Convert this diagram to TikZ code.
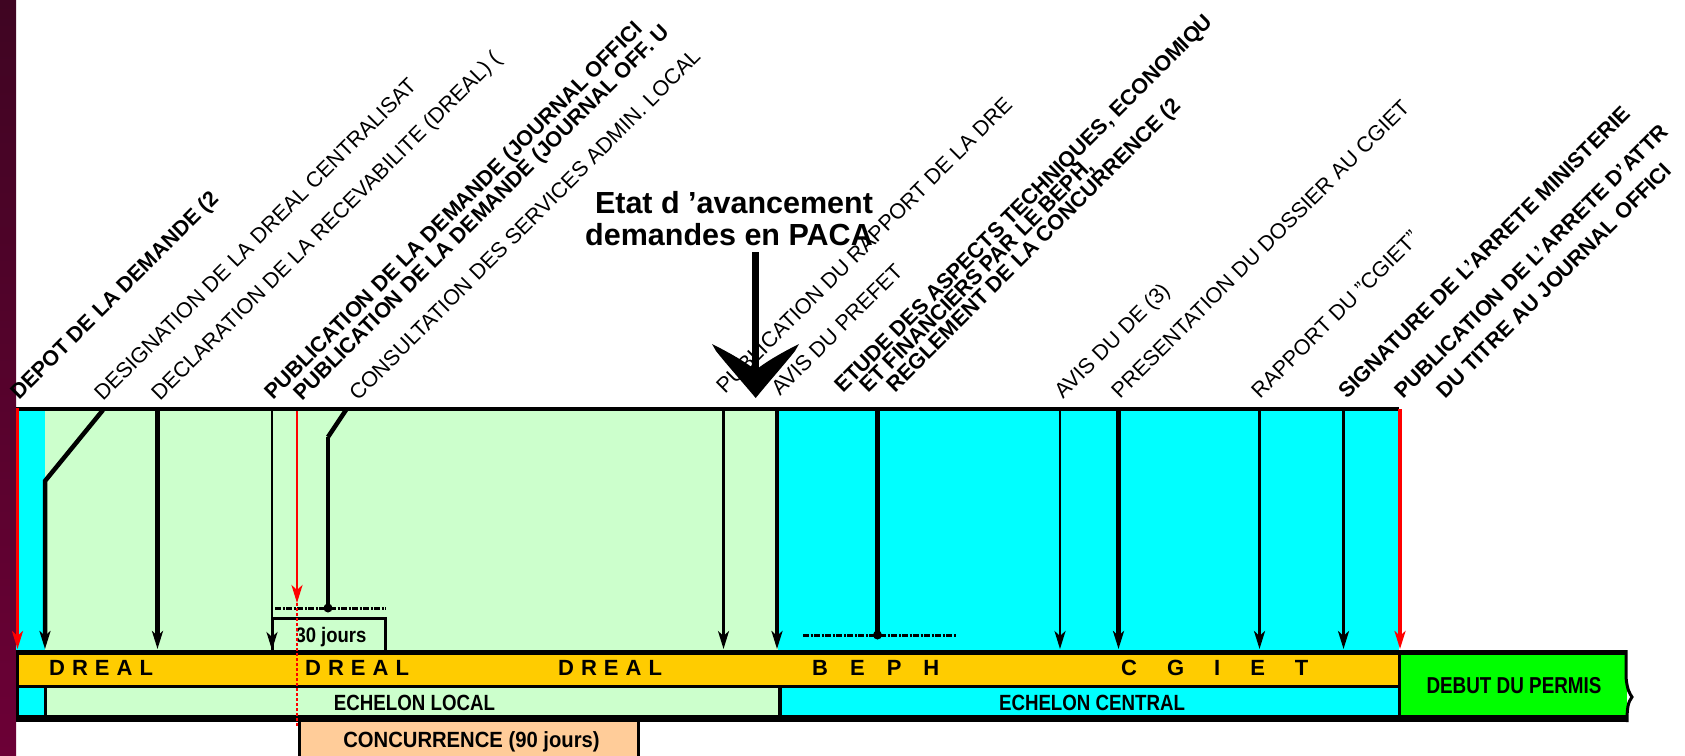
\documentclass[tikz,border=0pt]{standalone}
\usepackage{fontspec}
\setmainfont{Liberation Sans}
\usetikzlibrary{arrows.meta}
\definecolor{lgreen}{HTML}{CCFFCC}
\definecolor{cyanc}{HTML}{00FFFF}
\definecolor{gold}{HTML}{FFCC00}
\definecolor{bgreen}{HTML}{00FF00}
\definecolor{peach}{HTML}{FFCC99}
\definecolor{maroonT}{HTML}{3F0522}
\definecolor{maroonB}{HTML}{6C0036}
\definecolor{redc}{HTML}{FF0000}
\begin{document}
\begin{tikzpicture}[x=1pt,y=-1pt,
  lab/.style={rotate=45,anchor=base west,inner sep=0pt,font=\fontsize{21.5}{22}\selectfont},
  blab/.style={rotate=45,anchor=base west,inner sep=0pt,font=\fontsize{21.5}{22}\selectfont\bfseries},
  arr/.style={-{Stealth[length=18pt,width=11pt,inset=5pt]}},
  thinln/.style={line width=2.5pt,arr},
  thickln/.style={line width=4.2pt,arr},
  redln/.style={draw=redc,arr},
  dashdot/.style={line width=3pt,dash pattern={on 6pt off 1.5pt on 2pt off 1.5pt}},
  bartxt/.style={inner sep=0pt,anchor=base west,font=\fontsize{22}{22}\selectfont\bfseries},
  midtxt/.style={inner sep=0pt,anchor=base,font=\fontsize{22}{22}\selectfont\bfseries}]
\useasboundingbox (0,0) rectangle (1685,755);
\clip (0,0) rectangle (1685,755);
\shade[top color=maroonT,bottom color=maroonB] (0,0) rectangle (16,755);
% upper fills
\fill[cyanc] (16,409) rectangle (45,650);
\fill[lgreen] (45,409) rectangle (778,650);
\fill[cyanc] (778,409) rectangle (1399,650);
% bottom fills
\fill[gold] (17,652) rectangle (1399,686);
\fill[cyanc] (17,686) rectangle (45,718);
\fill[lgreen] (45,686) rectangle (780,718);
\fill[cyanc] (780,686) rectangle (1399,718);
\fill[bgreen] (1399,652) rectangle (1627,718);
\fill[peach] (299,718) rectangle (638,760);
% bar outlines
\draw[line width=4.5pt] (16,409) -- (1399,409);
\draw[line width=5pt] (16,652.5) -- (1627,652.5);
\draw[line width=3.5pt] (16,686.5) -- (1399,686.5);
\draw[line width=7pt] (16,718.5) -- (1627,718.5);
\draw[line width=3pt] (17.5,650) -- (17.5,722);
\draw[line width=3pt] (45,686) -- (45,718);
\draw[line width=4pt] (780,686) -- (780,718);
\draw[line width=3.5pt] (1399.5,650) -- (1399.5,722);
\draw[line width=3pt] (1626,650) -- (1626,677) .. controls (1627,690) and (1630,694) .. (1632,697) .. controls (1628,702) and (1627,708) .. (1627,722);
\draw[line width=3pt] (299.5,718) -- (299.5,760);
\draw[line width=3pt] (638.5,718) -- (638.5,760);
% connector end points
\coordinate (top1) at (17.5,408); \coordinate (bot1) at (17.5,649);
\coordinate (top2) at (103,410); \coordinate (bend2) at (45,481); \coordinate (bot2) at (45,649);
\coordinate (top3) at (157.5,410); \coordinate (bot3) at (157.5,649);
\coordinate (top4) at (272,410); \coordinate (bot4) at (272,650);
\coordinate (top5) at (297,411); \coordinate (bot5) at (297,603); \coordinate (end5) at (297,727);
\coordinate (top6) at (346,410); \coordinate (bend6) at (328,437); \coordinate (dot6) at (328,608);
\coordinate (top7) at (723.5,410); \coordinate (bot7) at (723.5,649);
\coordinate (top8) at (777,410); \coordinate (bot8) at (777,649);
\coordinate (top9) at (877.5,410); \coordinate (dot9) at (877.5,635);
\coordinate (top10) at (1060,410); \coordinate (bot10) at (1060,649);
\coordinate (top11) at (1118.5,410); \coordinate (bot11) at (1118.5,649);
\coordinate (top12) at (1259.5,410); \coordinate (bot12) at (1259.5,649);
\coordinate (top13) at (1343.5,410); \coordinate (bot13) at (1343.5,649);
\coordinate (top14) at (1400,409); \coordinate (bot14) at (1400,649);
% dash-dot periods
\coordinate (dd1a) at (275,608); \coordinate (dd1b) at (386,608);
\coordinate (dd2a) at (803,635); \coordinate (dd2b) at (956,635);
\draw[dashdot] (dd1a) -- (dd1b);
\draw[dashdot] (dd2a) -- (dd2b);
% 30 jours box
\draw[line width=3pt] (272,652) -- (272,618) -- (385,618) -- (385,652);
\node[inner sep=0pt,anchor=base] (j30) at (331,642) {\fontsize{21}{21}\selectfont\bfseries\scalebox{0.88}[1]{30 jours}};
% connectors
\draw[redln,line width=3pt] (top1) -- (bot1);
\draw[thickln,line width=4.5pt] (top2) -- (bend2) -- (bot2);
\draw[thickln,line width=4.5pt] (top3) -- (bot3);
\draw[thinln] (top4) -- (bot4);
\draw[redln,line width=2.5pt] (top5) -- (bot5);
\draw[draw=redc,line width=2pt,dash pattern={on 3pt off 2pt}] (bot5) -- (end5);
\draw[line width=4.5pt] (top6) -- (bend6);
\draw[line width=3.5pt] (bend6) -- (dot6);
\fill (dot6) circle (4.5pt);
\draw[thinln] (top7) -- (bot7);
\draw[thinln,line width=3.5pt] (top8) -- (bot8);
\draw[line width=4.5pt] (top9) -- (dot9);
\fill (dot9) circle (4.5pt);
\draw[thinln] (top10) -- (bot10);
\draw[thickln] (top11) -- (bot11);
\draw[thinln,line width=3pt] (top12) -- (bot12);
\draw[thinln,line width=3pt] (top13) -- (bot13);
\draw[redln,line width=4pt] (top14) -- (bot14);
% title
\node[inner sep=0pt,anchor=base] (t1) at (734,213) {\fontsize{30.5}{31}\selectfont\bfseries Etat d ’avancement};
\node[inner sep=0pt,anchor=base] (t2) at (729,245) {\fontsize{30.5}{31}\selectfont\bfseries demandes en PACA};
% rotated labels
\node[blab] (l1) at (19,401) {DEPOT DE LA DEMANDE (2};
\node[lab] (l2) at (103,402) {DESIGNATION DE LA DREAL CENTRALISAT};
\node[lab] (l3) at (160,402) {DECLARATION DE LA RECEVABILITE (DREAL) (};
\node[blab] (l4) at (273,401) {PUBLICATION DE LA DEMANDE (JOURNAL OFFICI};
\node[blab] (l5) at (302,402) {PUBLICATION DE LA DEMANDE (JOURNAL OFF. U};
\node[lab] (l6) at (358,402) {CONSULTATION DES SERVICES ADMIN. LOCAL};
\node[lab] (l7) at (725,395) {PUBLICATION DU RAPPORT DE LA DRE};
\node[lab] (l8) at (780,397) {AVIS DU PREFET};
\node[blab] (l9) at (843,394) {ETUDE DES ASPECTS TECHNIQUES, ECONOMIQU};
\node[blab] (l10) at (868,394) {ET FINANCIERS PAR LE BEPH,};
\node[blab] (l11) at (895,394) {REGLEMENT DE LA CONCURRENCE (2};
\node[lab] (l12) at (1063,400) {AVIS DU DE (3)};
\node[lab] (l13) at (1120,400) {PRESENTATION DU DOSSIER AU CGIET};
\node[lab] (l14) at (1260,400) {RAPPORT DU "CGIET"};
\node[blab] (l15) at (1347,400) {SIGNATURE DE L'ARRETE MINISTERIE};
\node[blab] (l16) at (1403,400) {PUBLICATION DE L'ARRETE D'ATTR};
\node[blab] (l17) at (1445,400) {DU TITRE AU JOURNAL OFFICI};
% big arrow, drawn over the labels
\fill (752.2,252) rectangle (759.2,380);
\fill (712,344) -- (716,351) .. controls (728,366) and (744,384) .. (755.7,398) .. controls (767,384) and (783,366) .. (795,351) -- (799,344) .. controls (783,352) and (767,361) .. (755.7,370) .. controls (744,361) and (728,352) .. (712,344) -- cycle;
% bar texts
\node[bartxt] (d1) at (49,675) {D\hspace{7pt}R\hspace{7pt}E\hspace{7pt}A\hspace{7pt}L};
\node[bartxt] (d2) at (305,675) {D\hspace{7pt}R\hspace{7pt}E\hspace{7pt}A\hspace{7pt}L};
\node[bartxt] (d3) at (558,675) {D\hspace{7pt}R\hspace{7pt}E\hspace{7pt}A\hspace{7pt}L};
\node[bartxt] (d4) at (812,675) {B\hspace{22pt}E\hspace{22pt}P\hspace{22pt}H};
\node[bartxt] (d5) at (1121,675) {C\hspace{30pt}G\hspace{30pt}I\hspace{30pt}E\hspace{30pt}T};
\node[midtxt] (e1) at (414.5,710) {\scalebox{0.85}[1]{ECHELON LOCAL}};
\node[midtxt] (e2) at (1092,710) {\scalebox{0.85}[1]{ECHELON CENTRAL}};
\node[midtxt] (cc) at (471.5,747) {\scalebox{0.92}[1]{CONCURRENCE (90 jours)}};
\node[inner sep=0pt,anchor=base] (db) at (1514,693) {\fontsize{23}{23}\selectfont\bfseries\scalebox{0.82}[1]{DEBUT DU PERMIS}};
\end{tikzpicture}
\end{document}
